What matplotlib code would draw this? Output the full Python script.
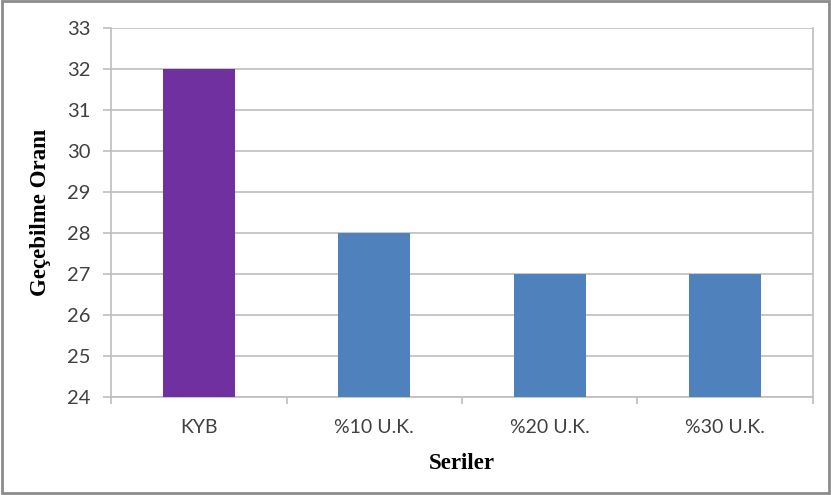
import matplotlib
matplotlib.use('Agg')
from matplotlib import pyplot as plt
from matplotlib.patches import Rectangle

seriler = ['KYB', '%10 U.K.', '%20 U.K.', '%30 U.K.']
oranlar = [32, 28, 27, 27]
renkler = ['#7030A0', '#4F81BD', '#4F81BD', '#4F81BD']

gridColor = '#BEBEBE'

fig = plt.figure(figsize=(8.31, 4.95), dpi=100)
ax = fig.add_axes([0.1336, 0.198, 0.8447, 0.7454])

x = range(len(seriler))
ax.bar(x, oranlar, width=0.41, color=renkler, bottom=0, zorder=3)

ax.set_ylim(24, 33)
ax.set_xlim(-0.5, len(seriler) - 0.5)
ax.set_yticks(range(24, 34))
ax.set_xticks(list(x))
ax.set_xticklabels(seriler, family='Lato', fontsize=14, color='#404040')
for lbl in ax.get_yticklabels():
  lbl.set_family('Lato')
  lbl.set_fontsize(14.5)
  lbl.set_color('#404040')

# category boundary ticks on the x axis
ax.set_xticks([i - 0.5 for i in range(len(seriler) + 1)], minor=True)
ax.tick_params(axis='x', which='major', length=0, pad=16)
ax.tick_params(axis='x', which='minor', length=5, color=gridColor, width=1.2)
ax.tick_params(axis='y', length=6, color=gridColor, width=1.2, pad=9)

ax.yaxis.grid(True, color=gridColor, linewidth=1.2, zorder=0)
ax.set_axisbelow(True)
for side in ['left', 'bottom', 'right']:
  ax.spines[side].set_color(gridColor)
  ax.spines[side].set_linewidth(1.2)
ax.spines['top'].set_visible(False)

ax.set_ylabel('Geçebilme Oranı', family='Liberation Serif', fontweight='bold', fontsize=16.5, labelpad=11)
ax.set_xlabel('Seriler', family='Liberation Serif', fontweight='bold', fontsize=16.5, labelpad=12)

# outer frame around the chart
fig.patches.append(Rectangle((0.003, 0.004), 0.994, 0.993, transform=fig.transFigure,
                             fill=False, edgecolor='#8C8C8C', linewidth=2))

plt.savefig('out.png', dpi=100)
